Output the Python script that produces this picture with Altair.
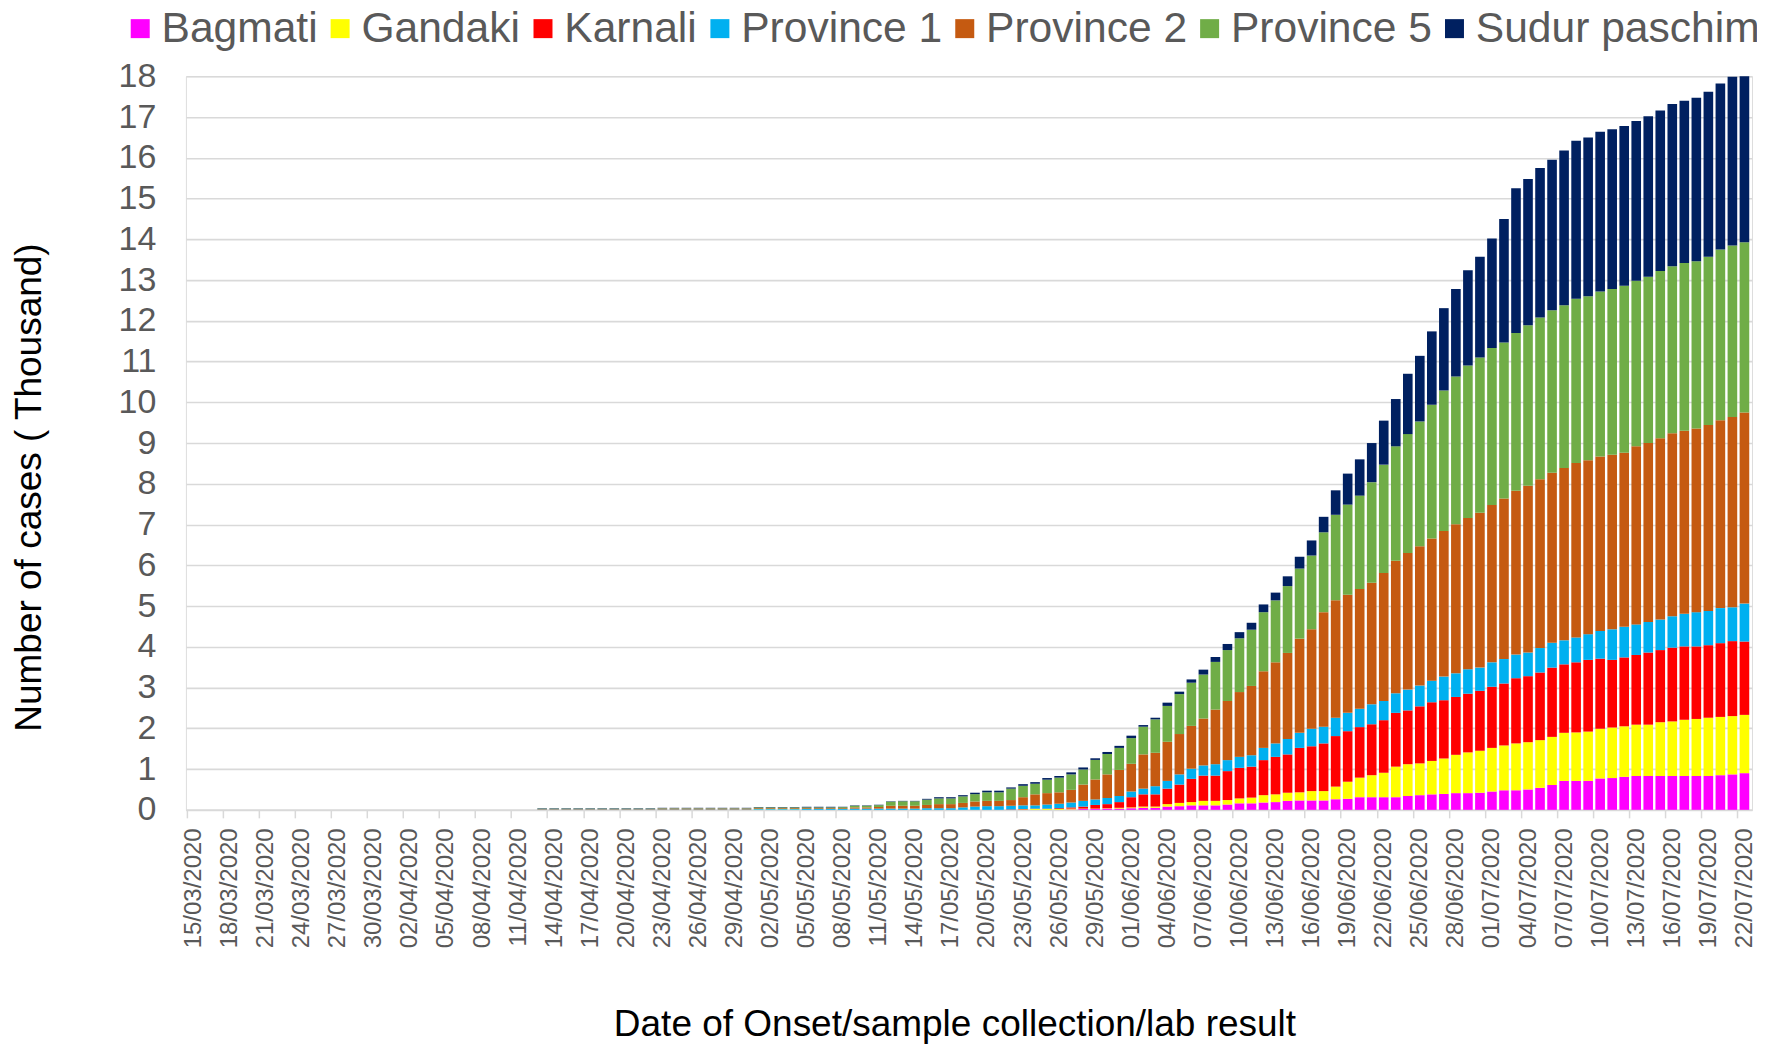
import altair as alt
import pandas as pd

# ---- categories -------------------------------------------------------------
dates = [d.strftime("%d/%m/%Y") for d in pd.date_range("2020-03-15", "2020-07-22", freq="D")]
label_dates = dates[::3]
first_case_index = 29  # first bar drawn on 13/04/2020; values below cover 13/04 .. 22/07

provinces = ["Bagmati", "Gandaki", "Karnali", "Province 1", "Province 2", "Province 5", "Sudur paschim"]
colors = ["#FF00FF", "#FFFF00", "#FF0000", "#00B0F0", "#C55A11", "#70AD47", "#002060"]

# ---- series values (thousand cases), one value per day from 13/04 to 22/07 ----
bagmati = [
    0, 0, 0, 0, 0, 0, 0, 0, 0, 0,
    0, 0, 0, 0, 0, 0, 0, 0, 0, 0,
    0, 0, 0, 0, 0, 0, 0, 0, 0, 0,
    0, 0, 0, 0, 0, 0, 0, 0, 0, 0,
    0, 0, 0, 0, 0.01, 0.02, 0.02, 0.03, 0.03, 0.04,
    0.05, 0.05, 0.08, 0.09, 0.11, 0.11, 0.11, 0.13, 0.16, 0.16,
    0.18, 0.19, 0.22, 0.23, 0.23, 0.23, 0.26, 0.27, 0.31, 0.31,
    0.31, 0.31, 0.34, 0.36, 0.38, 0.39, 0.41, 0.41, 0.42, 0.45,
    0.48, 0.48, 0.50, 0.54, 0.61, 0.71, 0.71, 0.71, 0.77, 0.78,
    0.81, 0.83, 0.83, 0.83, 0.83, 0.83, 0.83, 0.83, 0.85, 0.87,
    0.90,
]
gandaki = [
    0, 0, 0, 0, 0, 0, 0, 0, 0, 0,
    0, 0, 0, 0, 0, 0, 0, 0, 0.005, 0.005,
    0.005, 0.005, 0, 0, 0, 0, 0, 0, 0, 0,
    0, 0, 0, 0, 0, 0, 0, 0, 0, 0,
    0.01, 0.02, 0.02, 0.02, 0.02, 0.01, 0.01, 0.01, 0.02, 0.02,
    0.03, 0.03, 0.06, 0.08, 0.08, 0.11, 0.11, 0.11, 0.12, 0.14,
    0.18, 0.19, 0.20, 0.20, 0.23, 0.23, 0.31, 0.42, 0.48, 0.54,
    0.60, 0.75, 0.78, 0.78, 0.82, 0.87, 0.94, 1.00, 1.03, 1.07,
    1.10, 1.15, 1.16, 1.17, 1.18, 1.18, 1.19, 1.21, 1.22, 1.24,
    1.24, 1.26, 1.26, 1.32, 1.34, 1.38, 1.40, 1.43, 1.43, 1.43,
    1.43,
]
karnali = [
    0, 0, 0, 0, 0, 0, 0, 0, 0, 0,
    0, 0, 0, 0, 0, 0, 0, 0, 0, 0,
    0, 0, 0, 0, 0, 0, 0, 0, 0, 0,
    0, 0, 0, 0, 0, 0, 0, 0, 0, 0.01,
    0.01, 0.01, 0.01, 0.02, 0.03, 0.05, 0.09, 0.10, 0.14, 0.25,
    0.30, 0.30, 0.38, 0.45, 0.57, 0.62, 0.62, 0.71, 0.75, 0.76,
    0.86, 0.92, 0.94, 1.09, 1.10, 1.17, 1.24, 1.24, 1.24, 1.25,
    1.29, 1.32, 1.32, 1.40, 1.44, 1.43, 1.42, 1.44, 1.47, 1.50,
    1.52, 1.60, 1.62, 1.66, 1.70, 1.68, 1.72, 1.76, 1.72, 1.66,
    1.69, 1.71, 1.77, 1.77, 1.81, 1.80, 1.78, 1.78, 1.81, 1.84,
    1.80,
]
province1 = [
    0.01, 0.01, 0.01, 0.01, 0.01, 0.01, 0.01, 0.01, 0.01, 0.01,
    0.01, 0.01, 0.01, 0.01, 0.01, 0.01, 0.01, 0.01, 0.015, 0.015,
    0.015, 0.015, 0.02, 0.02, 0.02, 0.02, 0.03, 0.03, 0.03, 0.03,
    0.03, 0.03, 0.04, 0.04, 0.04, 0.06, 0.08, 0.09, 0.09, 0.09,
    0.09, 0.08, 0.10, 0.11, 0.12, 0.14, 0.135, 0.15, 0.15, 0.14,
    0.14, 0.20, 0.19, 0.25, 0.25, 0.25, 0.28, 0.27, 0.27, 0.28,
    0.30, 0.33, 0.38, 0.37, 0.43, 0.41, 0.45, 0.45, 0.45, 0.49,
    0.47, 0.48, 0.51, 0.51, 0.53, 0.58, 0.58, 0.60, 0.57, 0.60,
    0.60, 0.58, 0.58, 0.60, 0.61, 0.59, 0.61, 0.63, 0.68, 0.75,
    0.75, 0.75, 0.75, 0.75, 0.77, 0.80, 0.84, 0.84, 0.86, 0.83,
    0.93,
]
province2 = [
    0.01, 0.01, 0.01, 0.01, 0.01, 0.01, 0.01, 0.01, 0.01, 0.01,
    0.02, 0.02, 0.02, 0.02, 0.02, 0.02, 0.02, 0.02, 0.02, 0.02,
    0.02, 0.02, 0.02, 0.02, 0.02, 0.02, 0.03, 0.03, 0.04, 0.07,
    0.07, 0.07, 0.08, 0.10, 0.10, 0.11, 0.125, 0.13, 0.13, 0.14,
    0.20, 0.27, 0.28, 0.28, 0.31, 0.40, 0.49, 0.58, 0.64, 0.68,
    0.84, 0.82, 0.96, 0.99, 1.05, 1.15, 1.34, 1.45, 1.59, 1.70,
    1.88, 1.99, 2.11, 2.31, 2.44, 2.81, 2.88, 2.90, 2.94, 2.98,
    3.14, 3.25, 3.35, 3.42, 3.49, 3.57, 3.66, 3.71, 3.80, 3.86,
    3.94, 4.02, 4.09, 4.14, 4.17, 4.23, 4.28, 4.27, 4.28, 4.28,
    4.27, 4.37, 4.39, 4.45, 4.49, 4.49, 4.51, 4.56, 4.61, 4.67,
    4.69,
]
province5 = [
    0.01, 0.01, 0.01, 0.01, 0.01, 0.01, 0.01, 0.01, 0.01, 0.01,
    0.01, 0.01, 0.01, 0.01, 0.01, 0.01, 0.01, 0.01, 0.02, 0.02,
    0.02, 0.02, 0.02, 0.02, 0.02, 0.025, 0.04, 0.04, 0.045, 0.10,
    0.11, 0.11, 0.13, 0.14, 0.14, 0.16, 0.18, 0.21, 0.21, 0.28,
    0.28, 0.26, 0.33, 0.36, 0.38, 0.37, 0.48, 0.50, 0.54, 0.63,
    0.68, 0.82, 0.88, 0.98, 1.06, 1.08, 1.17, 1.25, 1.32, 1.38,
    1.45, 1.52, 1.64, 1.72, 1.81, 1.96, 2.10, 2.21, 2.29, 2.47,
    2.66, 2.81, 2.92, 3.06, 3.28, 3.45, 3.62, 3.74, 3.81, 3.85,
    3.83, 3.87, 3.94, 3.97, 3.99, 3.99, 4.03, 4.02, 4.05, 4.07,
    4.10, 4.06, 4.08, 4.10, 4.10, 4.12, 4.10, 4.13, 4.19, 4.21,
    4.18,
]
sudur_paschim = [
    0.01, 0.01, 0.01, 0.01, 0.01, 0.01, 0.01, 0.01, 0.01, 0.01,
    0.01, 0.01, 0.01, 0.01, 0.01, 0.01, 0.01, 0.01, 0.01, 0.01,
    0.01, 0.01, 0.015, 0.015, 0.015, 0.01, 0.01, 0.01, 0.01, 0.01,
    0.01, 0.01, 0.02, 0.03, 0.03, 0.03, 0.035, 0.04, 0.04, 0.03,
    0.04, 0.04, 0.04, 0.04, 0.05, 0.05, 0.04, 0.05, 0.05, 0.06,
    0.04, 0.04, 0.08, 0.06, 0.08, 0.12, 0.12, 0.15, 0.15, 0.17,
    0.19, 0.19, 0.24, 0.29, 0.37, 0.38, 0.60, 0.76, 0.89, 0.96,
    1.08, 1.16, 1.48, 1.61, 1.80, 2.02, 2.15, 2.34, 2.47, 2.69,
    3.03, 3.55, 3.59, 3.67, 3.69, 3.80, 3.88, 3.90, 3.92, 3.92,
    3.92, 3.92, 3.94, 3.94, 3.98, 3.98, 4.01, 4.05, 4.07, 4.14,
    4.07,
]

series = [bagmati, gandaki, karnali, province1, province2, province5, sudur_paschim]

rows = []
for k, (name, vals) in enumerate(zip(provinces, series)):
    for i, v in enumerate(vals):
        rows.append({"date": dates[first_case_index + i], "province": name,
                     "stack_order": k, "cases": v})
df = pd.DataFrame(rows)

FONT = "Liberation Sans"
GREY = "#595959"
GRID = "#D9D9D9"

chart = alt.Chart(df).mark_bar().encode(
    x=alt.X(
        "date:N",
        scale=alt.Scale(domain=dates, paddingInner=0.2, paddingOuter=0.23),
        axis=alt.Axis(
            values=label_dates,
            title="Date of Onset/sample collection/lab result",
            labelAngle=270,
            labelFontSize=24,
            labelColor=GREY,
            labelFont=FONT,
            labelPadding=10,
            labelOverlap=False,
            tickSize=8,
            tickColor=GRID,
            tickWidth=1.5,
            tickOffset=-7,
            labelOffset=7,
            domainColor=GRID,
            domainWidth=1.5,
            grid=False,
            titleFontSize=37,
            titleFont=FONT,
            titleFontWeight="normal",
            titleColor="#000000",
            titleX=769,
            titleY=215,
            titleBaseline="middle",
            titleAlign="center",
        ),
    ),
    y=alt.Y(
        "cases:Q",
        stack="zero",
        scale=alt.Scale(domain=[0, 18], nice=False),
        axis=alt.Axis(
            values=list(range(0, 19)),
            title="Number of cases ( Thousand)",
            format="d",
            labelFontSize=34,
            labelColor=GREY,
            labelFont=FONT,
            labelPadding=30,
            ticks=False,
            domain=False,
            grid=True,
            gridColor=GRID,
            gridWidth=1.6,
            titleFontSize=37,
            titleFont=FONT,
            titleFontWeight="normal",
            titleColor="#000000",
            titleAngle=270,
            titleX=-156,
            titleY=411,
            titleBaseline="middle",
            titleAlign="center",
        ),
    ),
    color=alt.Color(
        "province:N",
        scale=alt.Scale(domain=provinces, range=colors),
        legend=alt.Legend(
            title=None,
            orient="none",
            direction="horizontal",
            columns=7,
            legendX=-67,
            legendY=-69,
            symbolType="square",
            symbolSize=361,
            symbolStrokeWidth=0,
            labelFontSize=42.6,
            labelFont=FONT,
            labelColor=GREY,
            labelOffset=0,
            labelLimit=400,
            columnPadding=1,
        ),
    ),
    order=alt.Order("stack_order:Q", sort="ascending"),
).properties(
    width=1567,
    height=734,
    autosize=alt.AutoSizeParams(type="none"),
    padding={"left": 178, "top": 68, "right": 5, "bottom": 236},
).configure_view(stroke=None).configure(background="white")

chart.save("out.html", embed_options={"renderer": "svg", "actions": False})
